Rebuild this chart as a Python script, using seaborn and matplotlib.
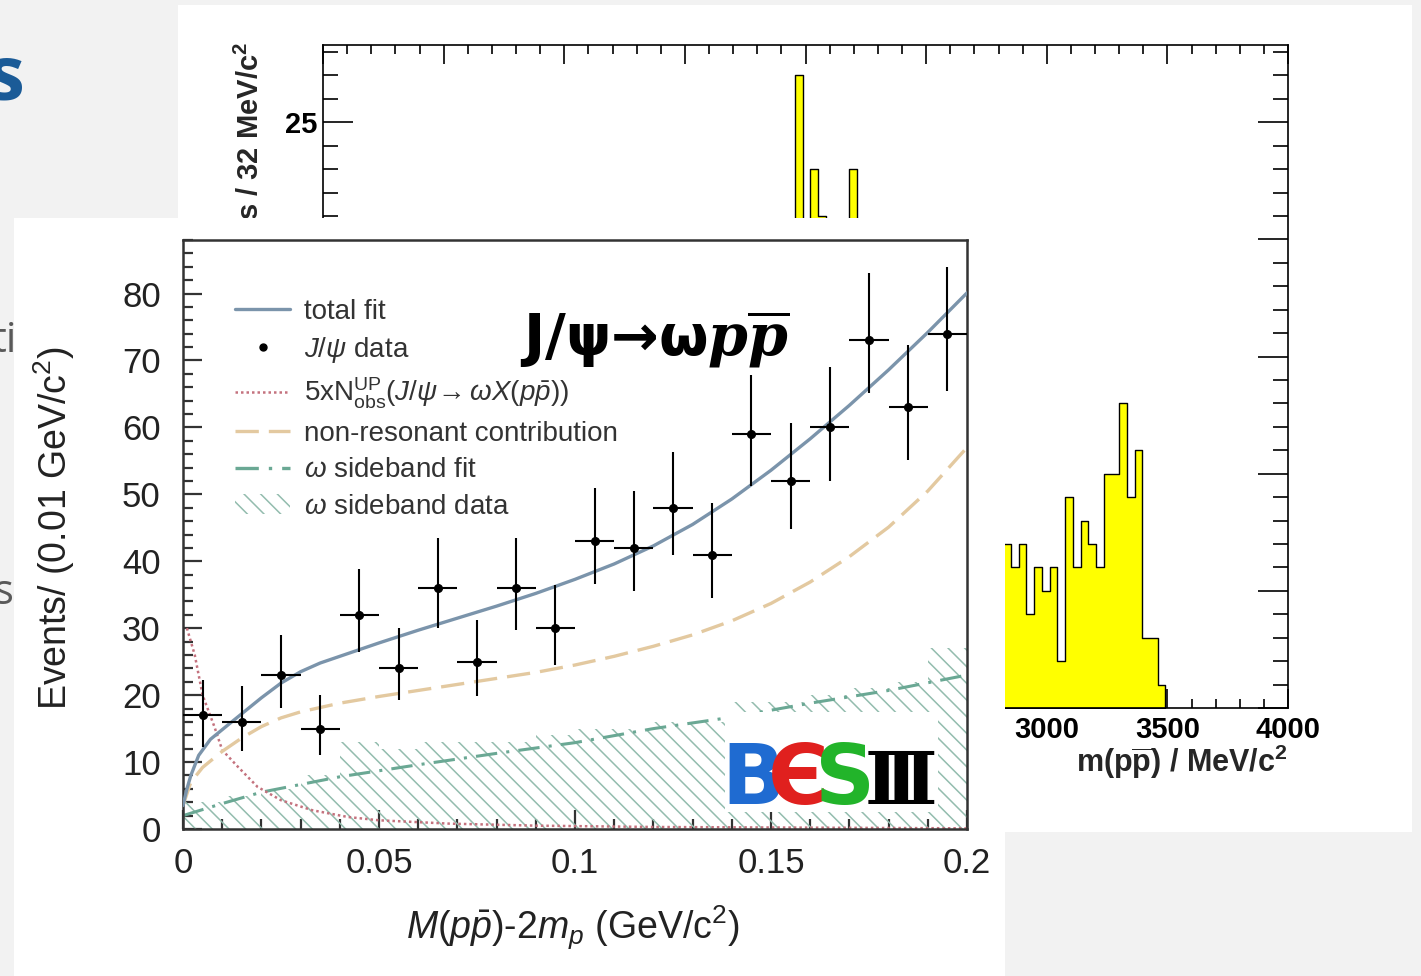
import numpy as np
import pandas as pd
import matplotlib
matplotlib.use("Agg")
import matplotlib.pyplot as plt
from matplotlib.patches import Rectangle, Patch
from matplotlib.lines import Line2D
from matplotlib.ticker import MultipleLocator
from matplotlib import font_manager as fm
import seaborn as sns

# ---------------- background histogram: m(p pbar), 32 MeV/c^2 bins ----------------
mpp_bin_start = 4            # MeV/c^2, edge of bin index 0
mpp_bin_width = 32
mpp_first_bin = 58           # first filled bin index
mpp_counts = [2, 8, 14, 27, 18, 23, 21, 17, 19, 15, 23, 16, 14, 17, 12, 15, 13, 11, 14, 10,
              12, 9, 11, 8, 10, 7, 9, 8, 6, 8,
              7, 6, 7, 4, 6, 5, 6, 2, 9, 6, 8, 7, 6, 10, 10, 13, 9, 11, 3, 3, 1]
mpp_xticks = [0, 500, 1000, 1500, 2000, 2500, 3000, 3500, 4000]
mpp_yticks = [0, 5, 10, 15, 20, 25]

# ---------------- foreground: J/psi -> omega p pbar ----------------
bin_lo = [0.00, 0.01, 0.02, 0.03, 0.04, 0.05, 0.06, 0.07, 0.08, 0.09,
          0.10, 0.11, 0.12, 0.13, 0.14, 0.15, 0.16, 0.17, 0.18, 0.19, 0.20]
bin_centers = [0.005, 0.015, 0.025, 0.035, 0.045, 0.055, 0.065, 0.075, 0.085, 0.095,
               0.105, 0.115, 0.125, 0.135, 0.145, 0.155, 0.165, 0.175, 0.185, 0.195]
events = [17, 16, 23, 15, 32, 24, 36, 25, 36, 30, 43, 42, 48, 41, 59, 52, 60, 73, 63, 74]
err_low = [4.7, 4.4, 4.9, 4.0, 5.6, 4.8, 6.0, 5.2, 6.2, 5.5,
           6.4, 6.5, 7.0, 6.5, 7.8, 7.2, 8.0, 7.8, 7.8, 8.6]
err_high = [5.3, 5.3, 6.0, 5.0, 6.9, 6.1, 7.5, 6.2, 7.5, 6.5,
            8.0, 8.5, 8.4, 7.7, 8.8, 8.6, 9.1, 10.0, 9.3, 10.0]
sideband_counts = [4, 5, 6, 8, 13, 12, 13, 13, 13, 14, 15, 15, 16, 16, 19, 19, 20, 21, 22, 27]

fit_x = [0.0, 0.001, 0.002, 0.004, 0.007, 0.012, 0.02, 0.025, 0.03, 0.035, 0.04, 0.045, 0.05,
         0.06, 0.07, 0.08, 0.09, 0.10, 0.11, 0.12, 0.13, 0.14, 0.15, 0.16, 0.17, 0.18, 0.19, 0.20]
total_fit = [3.5, 6.0, 8.0, 11.0, 13.4, 15.8, 19.6, 21.8, 23.5, 24.8, 25.8, 26.8, 27.8,
             29.7, 31.5, 33.3, 35.2, 37.3, 39.6, 42.3, 45.5, 49.3, 53.6, 58.3, 63.3, 68.6, 74.2, 80.1]
nonres_x = [0.0, 0.002, 0.005, 0.01, 0.015, 0.02, 0.025, 0.03, 0.04, 0.05, 0.06, 0.07, 0.08,
            0.09, 0.10, 0.11, 0.12, 0.13, 0.14, 0.15, 0.16, 0.17, 0.18, 0.19, 0.20]
nonres = [3.5, 7.0, 9.2, 11.6, 13.6, 15.3, 16.6, 17.5, 18.8, 19.8, 20.7, 21.6, 22.5,
          23.4, 24.5, 25.8, 27.3, 29.0, 31.1, 33.7, 36.9, 40.7, 45.1, 50.5, 57.0]
sbfit_x = [0.0, 0.01, 0.02, 0.04, 0.06, 0.08, 0.10, 0.12, 0.14, 0.16, 0.18, 0.20]
sbfit = [2.0, 3.8, 5.5, 7.8, 9.6, 11.3, 12.9, 15.0, 16.7, 18.8, 20.7, 23.0]
upper_x = [0.001, 0.003, 0.005, 0.008, 0.010, 0.014, 0.019, 0.025, 0.033, 0.042,
           0.050, 0.068, 0.090, 0.120, 0.160, 0.200]
upper = [30.0, 26.0, 20.0, 15.3, 11.8, 9.3, 6.3, 4.3, 2.8, 1.8,
         1.3, 0.8, 0.5, 0.3, 0.2, 0.1]
xtick_vals = [0, 0.05, 0.1, 0.15, 0.2]
xtick_labels = ["0", "0.05", "0.1", "0.15", "0.2"]
ytick_vals = [0, 10, 20, 30, 40, 50, 60, 70, 80]

legend_labels = ["total fit", r"$J/\psi$ data",
                 r"5xN$^{\rm UP}_{\rm obs}$($J/\psi\!\rightarrow\omega X(p\bar{p})$)",
                 "non-resonant contribution", r"$\omega$ sideband fit", r"$\omega$ sideband data"]

# ---------------- style ----------------
sns.set_style("ticks")
plt.rcParams["font.family"] = ["Liberation Sans", "DejaVu Sans"]
plt.rcParams["mathtext.fontset"] = "custom"
plt.rcParams["mathtext.rm"] = "Liberation Sans"
plt.rcParams["mathtext.it"] = "Liberation Sans:italic"
plt.rcParams["mathtext.bf"] = "Liberation Sans:bold"
plt.rcParams["mathtext.bfit"] = "DejaVu Serif:italic:bold"
plt.rcParams["hatch.linewidth"] = 1.1


def pick_font(cands, **kw):
    for fam in cands:
        try:
            fm.findfont(fm.FontProperties(family=fam, **kw), fallback_to_default=False)
            return fam
        except Exception:
            pass
    return "DejaVu Sans"


logo_family = pick_font(["Liberation Sans Narrow", "DejaVu Sans Condensed"], weight="bold")

W, H = 1421, 976
def fx(px):
    return px / W
def fy(py):
    return 1 - py / H

fig = plt.figure(figsize=(W / 100, H / 100), dpi=100, facecolor="#f2f2f2")

# white panel of the background picture
fig.add_artist(Rectangle((fx(178), fy(832)), fx(1412) - fx(178), fy(5) - fy(832),
                         transform=fig.transFigure, facecolor="white", edgecolor="none", zorder=-1))

# slide text fragments (left edge)
fig.text(fx(25), fy(100), "s", ha="right", va="baseline", fontsize=55, fontweight="bold",
         family=["Open Sans", "DejaVu Sans"], color="#1b5b97", zorder=0.5)
fig.text(fx(-9), fy(352), "ti", ha="left", va="baseline", fontsize=30,
         family=["Open Sans", "DejaVu Sans"], color="#595959", zorder=0.5)
fig.text(fx(-6), fy(604), "s", ha="left", va="baseline", fontsize=30,
         family=["Open Sans", "DejaVu Sans"], color="#595959", zorder=0.5)

# ---------------- background histogram axes ----------------
axb = fig.add_axes([fx(323), fy(708), fx(1288) - fx(323), fy(45) - fy(708)], zorder=0)
axb.set_facecolor("white")
edges = mpp_bin_start + mpp_bin_width * np.arange(mpp_first_bin, mpp_first_bin + len(mpp_counts) + 1)
hist_df = pd.DataFrame({"m": 0.5 * (edges[:-1] + edges[1:]), "n": mpp_counts})
sns.histplot(data=hist_df, x="m", weights="n", bins=list(edges), element="step", fill=True,
             color="#ffff00", edgecolor="black", linewidth=1.0, alpha=1, ax=axb)
axb.set_xlim(0, 4000)
axb.set_ylim(0, 28.3)
axb.set_xlabel("")
axb.set_ylabel("")
axb.set_xticks(mpp_xticks)
axb.set_yticks(mpp_yticks)
axb.xaxis.set_minor_locator(MultipleLocator(100))
axb.yaxis.set_minor_locator(MultipleLocator(1))
axb.tick_params(which="both", direction="in", top=True, right=True, width=1.2,
                color="black", labelsize=21, labelcolor="black")
axb.tick_params(axis="x", which="major", length=13.7, pad=6)
axb.tick_params(axis="x", which="minor", length=6.5)
axb.tick_params(axis="y", which="major", length=21.6, pad=4)
axb.tick_params(axis="y", which="minor", length=10.8)
for lab in axb.get_xticklabels() + axb.get_yticklabels():
    lab.set_fontweight("bold")
for sp in axb.spines.values():
    sp.set_linewidth(1.2)
    sp.set_color("black")
fig.text(fx(250), fy(42), r"Events / 32 MeV/c$^{\mathbf{2}}$", rotation=90, rotation_mode="anchor",
         ha="right", va="center", fontsize=21, fontweight="bold", zorder=0.5)
fig.text(fx(1288), fy(762), r"m(p$\mathbf{\overline{p}}$) / MeV/c$^{\mathbf{2}}$", ha="right",
         va="center", fontsize=22, fontweight="bold", zorder=0.5)

# ---------------- foreground white panel and axes ----------------
fig.add_artist(Rectangle((fx(14), 0), fx(1005) - fx(14), fy(218), transform=fig.transFigure,
                         facecolor="white", edgecolor="none", zorder=1))
ax = fig.add_axes([fx(183), fy(829), fx(967) - fx(183), fy(240) - fy(829)], zorder=2)
ax.set_facecolor("white")

c_total = "#7b94ab"
c_nonres = "#e3c9a0"
c_sb = "#6aa894"
c_hatch = "#93bcae"
c_dot = "#c4727e"

ax.stairs(sideband_counts, bin_lo, fill=True, facecolor="none", edgecolor=c_hatch,
          hatch="\\\\", linewidth=0, zorder=1)
sns.lineplot(x=sbfit_x, y=sbfit, ax=ax, color=c_sb, linewidth=2.2,
             linestyle=(0, (7, 3, 1, 3)), zorder=2)
sns.lineplot(x=upper_x, y=upper, ax=ax, color=c_dot, linewidth=1.8,
             linestyle=(0, (1, 1.2)), zorder=2)
sns.lineplot(x=nonres_x, y=nonres, ax=ax, color=c_nonres, linewidth=2.4,
             linestyle=(0, (7, 3)), zorder=2)
sns.lineplot(x=fit_x, y=total_fit, ax=ax, color=c_total, linewidth=2.4, zorder=3)
ax.errorbar(bin_centers, events, yerr=[err_low, err_high], xerr=0.005, fmt="o", ms=5.5,
            color="black", ecolor="black", elinewidth=1.5, capsize=0, zorder=5)

ax.set_xlim(0, 0.2)
ax.set_ylim(0, 88)
ax.set_xticks(xtick_vals, labels=xtick_labels)
ax.set_yticks(ytick_vals)
ax.xaxis.set_minor_locator(MultipleLocator(0.01))
ax.yaxis.set_minor_locator(MultipleLocator(2))
ax.tick_params(which="both", direction="in", top=False, right=False, color="#333333",
               width=1.6, labelsize=25, labelcolor="#222222")
ax.tick_params(axis="x", which="major", length=14, pad=13)
ax.tick_params(axis="x", which="minor", length=7)
ax.tick_params(axis="y", which="major", length=14, pad=16)
ax.tick_params(axis="y", which="minor", length=7)
for sp in ax.spines.values():
    sp.set_linewidth(1.8)
    sp.set_color("#333333")
    sp.set_visible(True)

ax.set_ylabel(r"Events/ (0.01 GeV/c$^2$)", fontsize=27, color="#222222")
ax.yaxis.set_label_coords(-0.135, 0.511)
ax.set_xlabel(r"$M(p\bar{p})$-2$m_p$ (GeV/c$^2$)", fontsize=27, color="#222222")
ax.xaxis.set_label_coords(0.497, -0.126)

handles = [Line2D([], [], color=c_total, lw=2.4),
           Line2D([], [], ls="none", marker="o", ms=5, color="black"),
           Line2D([], [], color=c_dot, lw=1.8, ls=(0, (1, 1.2))),
           Line2D([], [], color=c_nonres, lw=2.4, ls=(0, (7, 3))),
           Line2D([], [], color=c_sb, lw=2.4, ls=(0, (7, 3, 1, 3))),
           Patch(facecolor="none", edgecolor=c_hatch, hatch="\\\\", lw=0)]
ax.legend(handles, legend_labels, loc="upper left", bbox_to_anchor=(0.066, 0.90), frameon=False,
          fontsize=20, handlelength=2.0, handletextpad=0.5, labelspacing=0.37,
          borderaxespad=0, borderpad=0, labelcolor="#333333")

# reaction label
fig.text(fx(520), fy(356), r"J/ψ→ω$\mathbfit{p}\overline{\mathbfit{p}}$", ha="left", va="baseline",
         fontsize=41, fontweight="bold", family="DejaVu Sans", color="black", zorder=6)

# BESIII logo
fig.add_artist(Rectangle((fx(725), fy(812)), fx(938) - fx(725), fy(712) - fy(812),
                         transform=fig.transFigure, facecolor="white", edgecolor="none", zorder=3))
logo_kw = dict(ha="center", va="baseline", fontweight="bold", zorder=4)
fig.text(fx(753), fy(804), "B", color="#1f6bd1", family=logo_family, fontsize=60, **logo_kw)
fig.text(fx(798), fy(804), "Є", color="#e0201e", family=logo_family, fontsize=60, **logo_kw)
fig.text(fx(845), fy(804), "S", color="#22b42a", family=logo_family, fontsize=60, **logo_kw)
fig.text(fx(901), fy(804), "Ⅲ", color="black", family="DejaVu Serif", fontsize=52, **logo_kw)

fig.savefig("out.png", dpi=100, facecolor=fig.get_facecolor())
